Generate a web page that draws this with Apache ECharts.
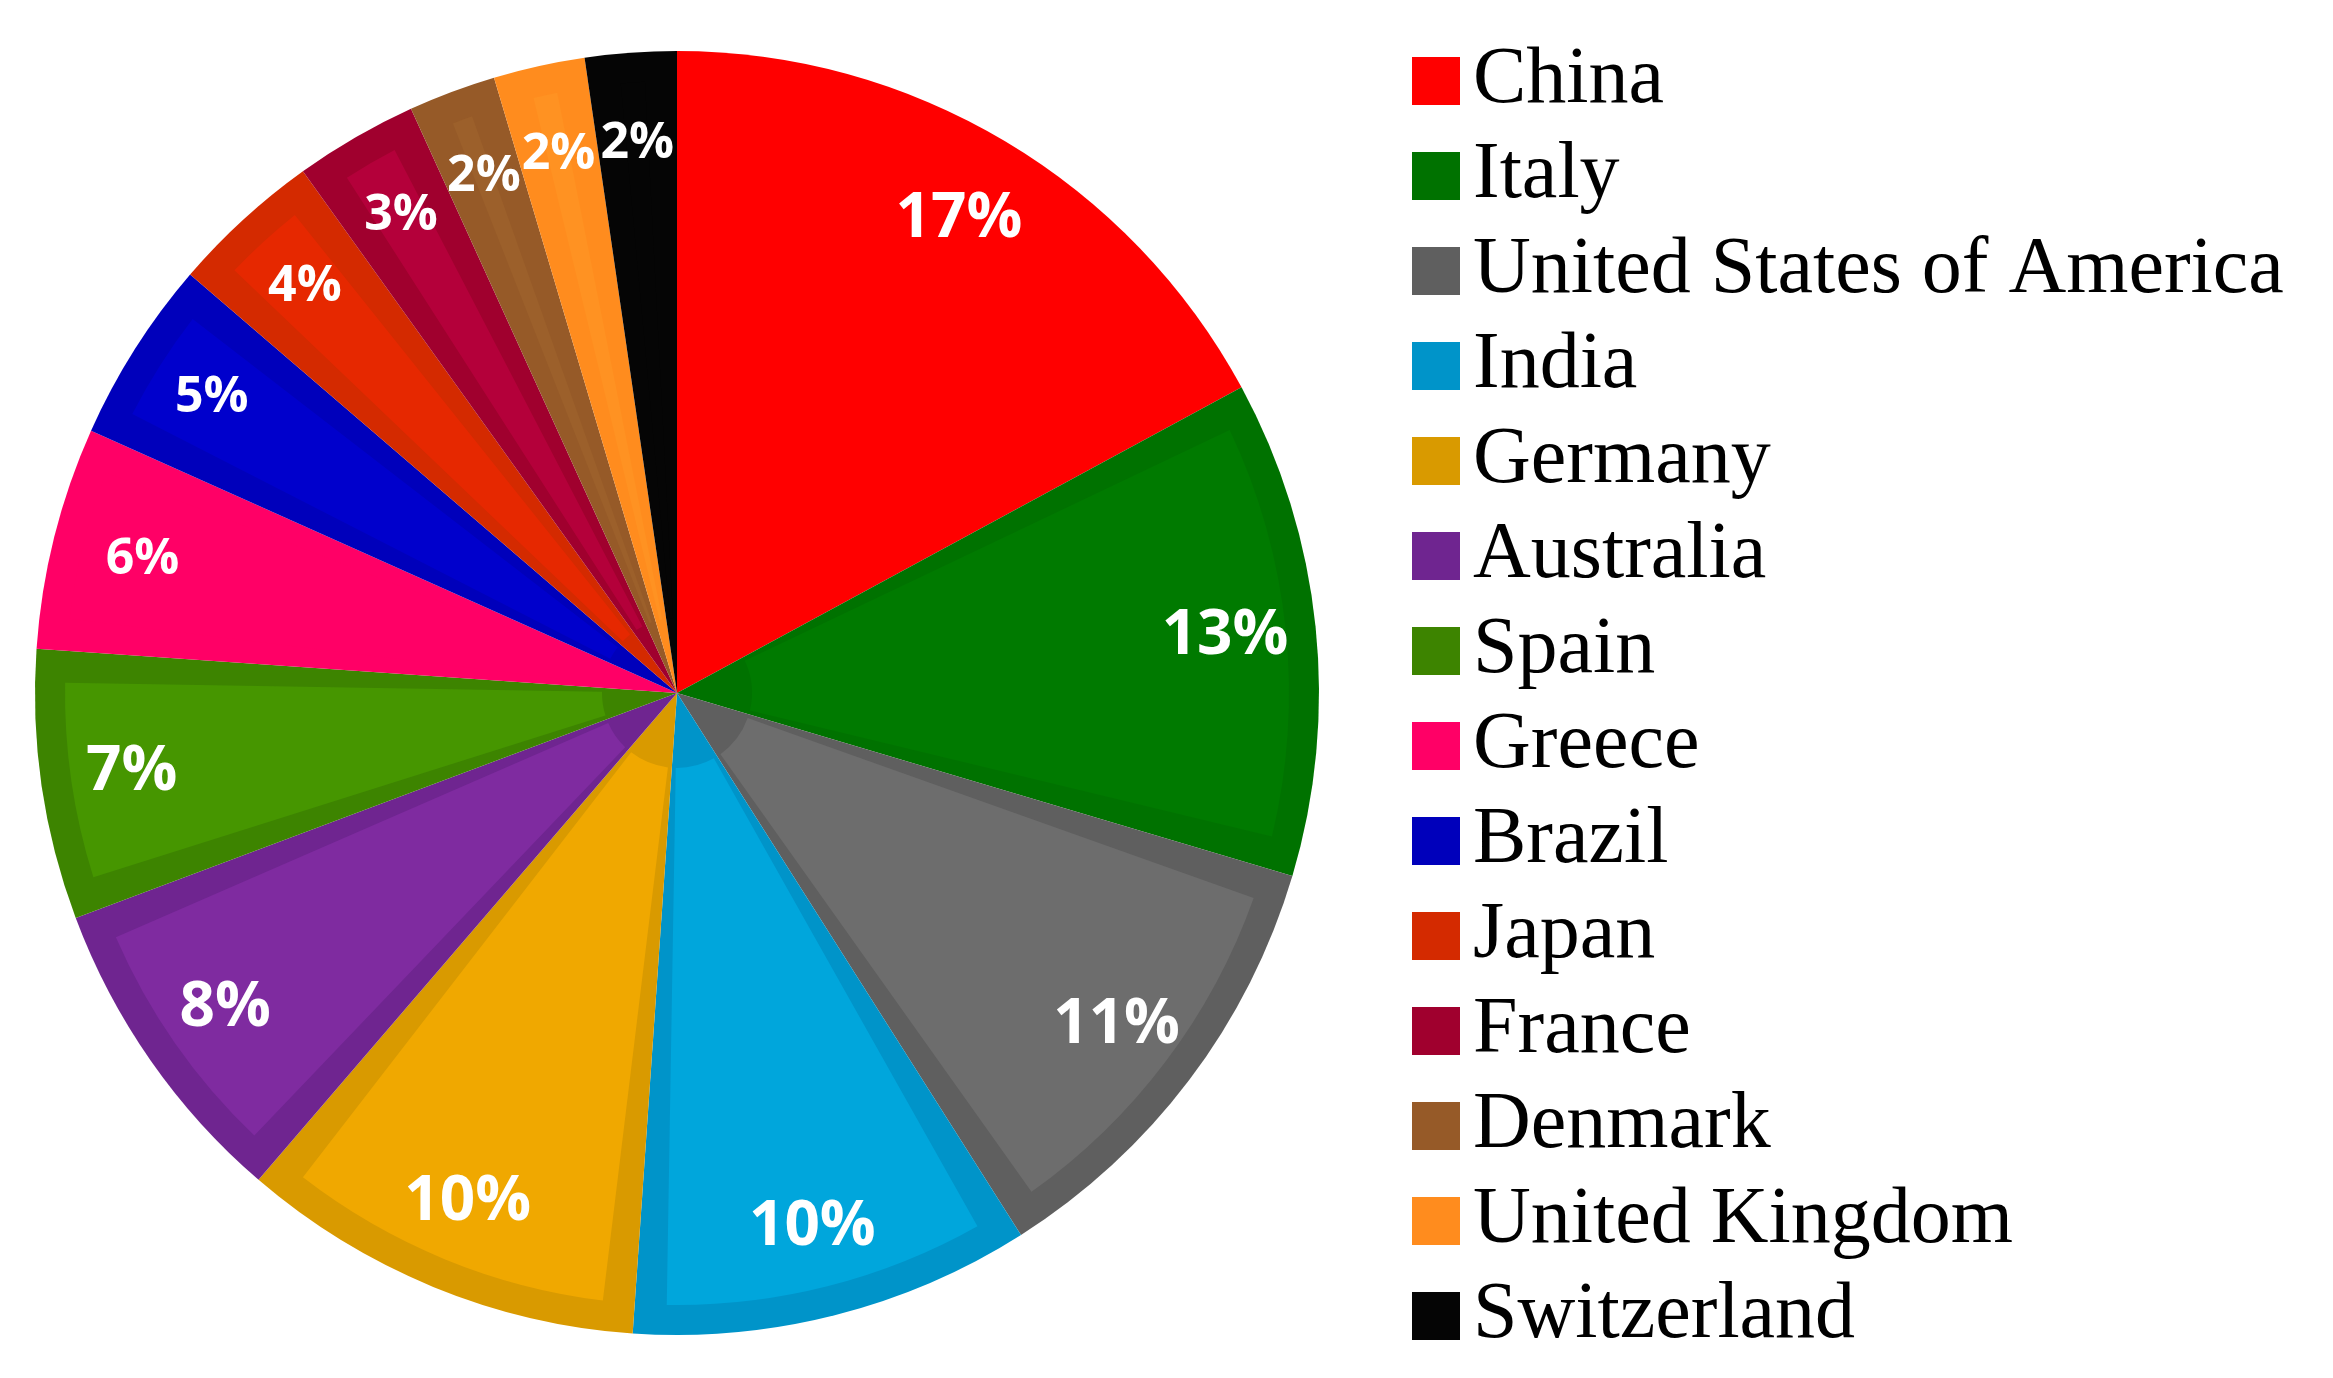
<!DOCTYPE html>
<html>
<head>
<meta charset="utf-8">
<script src="https://cdn.jsdelivr.net/npm/echarts@6/dist/echarts.min.js"></script>
<style>
  html, body { margin: 0; padding: 0; background: #fff; }
  #chart { width: 2333px; height: 1378px; }
</style>
</head>
<body>
<div id="chart"></div>
<script>
// countries, clockwise from 12 o'clock
const countries = ['China', 'Italy', 'United States of America', 'India', 'Germany', 'Australia',
  'Spain', 'Greece', 'Brazil', 'Japan', 'France', 'Denmark', 'United Kingdom', 'Switzerland']
// share (%)
const shares = [17.1, 12.5, 11.4, 10.1, 10.2, 8.0, 6.8, 5.6, 4.6, 3.8, 3.1, 2.2, 2.3, 2.3]

// outer band colour (also legend swatch) and the lighter inner fill
const bandColors = ['#ff0000', '#007200', '#5f5f5f', '#0094c9', '#d99a00', '#6f2590',
  '#3d8400', '#ff0066', '#0000bb', '#d42a00', '#a0002e', '#965a28', '#ff8c1e', '#050505']
const fillColors = ['#ff0000', '#007a00', '#6d6d6d', '#00a6dc', '#f0a800', '#7f2ba0',
  '#469600', '#ff0066', '#0000cc', '#e62800', '#b4003a', '#9c602b', '#ff9222', '#050505']

const chart = echarts.init(document.getElementById('chart'))

const center = [677, 693]
const R = 642

function items(colors) {
  return countries.map((name, i) => ({
    name,
    value: shares[i],
    itemStyle: colors ? { color: colors[i] } : undefined
  }))
}

chart.setOption({
  animation: false,
  legend: {
    orient: 'vertical',
    left: 1407,
    top: 36,
    height: 1340,
    icon: 'rect',
    itemWidth: 48,
    itemHeight: 48,
    itemGap: 15,
    selectedMode: false,
    data: countries,
    textStyle: {
      fontFamily: 'Liberation Serif',
      fontSize: 80,
      lineHeight: 80,
      color: '#000',
      padding: [0, 0, 0, 8]
    }
  },
  series: [
    {
      // base pie: darker band colour
      name: 'band',
      type: 'pie',
      center,
      radius: [0, R],
      startAngle: 90,
      clockwise: true,
      silent: true,
      label: { show: false },
      labelLine: { show: false },
      data: items(bandColors)
    },
    {
      // lighter inset fill
      name: 'fill',
      type: 'pie',
      center,
      radius: [75, R - 30],
      startAngle: 90,
      clockwise: true,
      padAngle: 6,
      silent: true,
      label: { show: false },
      labelLine: { show: false },
      data: items(fillColors)
    },
    {
      // transparent ring that carries the percentage labels
      name: 'labels',
      type: 'pie',
      center,
      radius: [454, R],
      startAngle: 90,
      clockwise: true,
      silent: true,
      avoidLabelOverlap: false,
      labelLayout: { hideOverlap: false },
      itemStyle: { color: 'rgba(0,0,0,0)' },
      labelLine: { show: false },
      label: {
        show: true,
        position: 'inside',
        rotate: 0,
        formatter: p => (Math.round(p.value) >= 7 ? '{big|' : '{small|') + Math.round(p.value) + '%}',
        rich: {
          big: { fontFamily: 'Open Sans', fontWeight: 'bold', fontSize: 62, color: '#fff' },
          small: { fontFamily: 'Open Sans', fontWeight: 'bold', fontSize: 50, color: '#fff' }
        }
      },
      data: countries.map((name, i) => ({ name, value: shares[i] }))
    }
  ]
})
</script>
</body>
</html>
